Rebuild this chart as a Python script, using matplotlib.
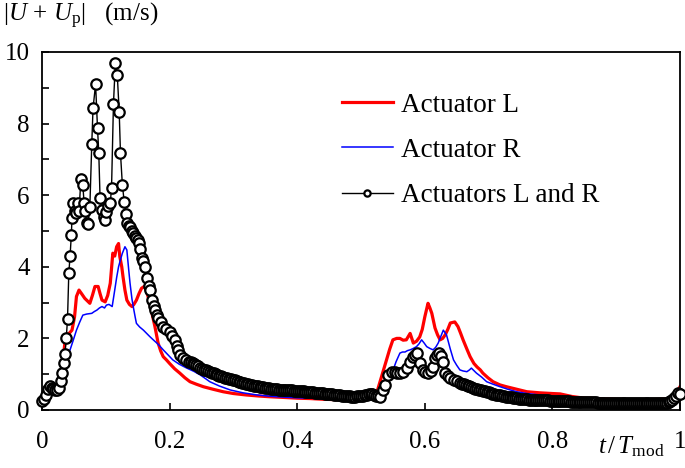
import matplotlib
matplotlib.use("Agg")
import matplotlib.pyplot as plt
from matplotlib.ticker import MultipleLocator

plt.rcParams['font.family'] = ['Liberation Serif', 'DejaVu Serif']
plt.rcParams['mathtext.fontset'] = 'custom'
plt.rcParams['mathtext.rm'] = 'Liberation Serif'
plt.rcParams['mathtext.it'] = 'Liberation Serif:italic'

# actuator L alone
t_left = [0.000, 0.010, 0.020, 0.028, 0.033, 0.036, 0.039, 0.043, 0.047, 0.051, 0.054, 0.058,
          0.062, 0.067, 0.071, 0.075, 0.079, 0.083, 0.088, 0.091, 0.094, 0.099, 0.103, 0.107,
          0.111, 0.114, 0.117, 0.120, 0.122, 0.125, 0.127, 0.130, 0.133, 0.137, 0.141, 0.144,
          0.148, 0.152, 0.156, 0.161, 0.165, 0.169, 0.173, 0.177, 0.182, 0.186, 0.190, 0.195,
          0.200, 0.208, 0.216, 0.224, 0.232, 0.242, 0.253, 0.268, 0.284, 0.300, 0.320, 0.340,
          0.357, 0.380, 0.400, 0.420, 0.440, 0.460, 0.480, 0.500, 0.515, 0.525, 0.530, 0.535,
          0.540, 0.545, 0.550, 0.556, 0.561, 0.566, 0.571, 0.577, 0.582, 0.587, 0.592, 0.596,
          0.600, 0.605, 0.608, 0.611, 0.616, 0.620, 0.624, 0.628, 0.632, 0.636, 0.640, 0.647,
          0.652, 0.656, 0.660, 0.666, 0.671, 0.677, 0.682, 0.687, 0.691, 0.699, 0.707, 0.718,
          0.728, 0.744, 0.760, 0.780, 0.800, 0.812, 0.830, 0.850, 0.900, 0.950, 0.990, 1.000]
u_left = [0.25, 0.50, 0.60, 0.70, 1.40, 1.90, 2.10, 2.15, 2.23, 2.60, 3.17, 3.35,
          3.25, 3.12, 3.05, 2.98, 3.20, 3.45, 3.45, 3.25, 3.07, 3.02, 3.20, 3.54,
          4.38, 4.30, 4.56, 4.65, 4.28, 4.00, 3.72, 3.35, 3.07, 2.95, 2.89, 2.95,
          3.07, 3.25, 3.40, 3.46, 3.25, 2.98, 2.65, 2.33, 1.87, 1.65, 1.49, 1.40,
          1.30, 1.15, 1.03, 0.90, 0.79, 0.72, 0.65, 0.58, 0.51, 0.46, 0.42, 0.39,
          0.37, 0.35, 0.33, 0.32, 0.30, 0.29, 0.28, 0.28, 0.30, 0.50, 0.80, 1.10,
          1.40, 1.70, 1.96, 2.00, 2.00, 1.95, 1.96, 2.14, 1.87, 1.92, 2.04, 2.25,
          2.60, 2.98, 2.85, 2.70, 2.29, 2.10, 1.96, 2.00, 2.10, 2.25, 2.43, 2.46,
          2.33, 2.15, 1.96, 1.70, 1.49, 1.30, 1.20, 1.12, 1.03, 0.90, 0.79, 0.70,
          0.65, 0.58, 0.51, 0.48, 0.46, 0.45, 0.38, 0.33, 0.30, 0.28, 0.32, 0.65]

# actuator R alone
t_right = [0.000, 0.010, 0.020, 0.028, 0.033, 0.038, 0.044, 0.049, 0.054, 0.059, 0.064, 0.070,
           0.078, 0.082, 0.086, 0.090, 0.094, 0.098, 0.101, 0.105, 0.110, 0.114, 0.117, 0.120,
           0.123, 0.126, 0.130, 0.133, 0.136, 0.138, 0.141, 0.143, 0.146, 0.148, 0.153, 0.159,
           0.164, 0.169, 0.175, 0.180, 0.185, 0.190, 0.197, 0.205, 0.215, 0.227, 0.238, 0.248,
           0.256, 0.263, 0.278, 0.295, 0.315, 0.337, 0.360, 0.380, 0.400, 0.420, 0.440, 0.460,
           0.480, 0.500, 0.520, 0.530, 0.540, 0.545, 0.550, 0.555, 0.561, 0.565, 0.569, 0.573,
           0.577, 0.582, 0.587, 0.591, 0.595, 0.599, 0.603, 0.608, 0.613, 0.617, 0.621, 0.625,
           0.629, 0.634, 0.637, 0.640, 0.645, 0.650, 0.655, 0.660, 0.666, 0.670, 0.673, 0.681,
           0.689, 0.697, 0.707, 0.718, 0.730, 0.744, 0.760, 0.780, 0.800, 0.850, 0.900, 0.950,
           0.990, 1.000]
u_right = [0.25, 0.50, 0.60, 0.70, 1.30, 1.50, 1.68, 1.95, 2.23, 2.45, 2.65, 2.68,
           2.70, 2.75, 2.79, 2.85, 2.89, 2.85, 2.93, 2.95, 2.89, 3.35, 3.70, 4.00,
           4.20, 4.38, 4.56, 4.47, 3.90, 3.54, 3.10, 2.89, 2.60, 2.42, 2.32, 2.23,
           2.14, 2.05, 1.95, 1.87, 1.78, 1.68, 1.55, 1.40, 1.28, 1.17, 1.08, 0.98,
           0.88, 0.79, 0.67, 0.56, 0.48, 0.42, 0.38, 0.36, 0.34, 0.33, 0.31, 0.30,
           0.29, 0.29, 0.30, 0.50, 0.80, 0.95, 1.10, 1.35, 1.59, 1.62, 1.62, 1.66,
           1.68, 1.72, 1.77, 1.85, 1.96, 1.87, 1.77, 1.72, 1.68, 1.75, 1.87, 2.05,
           2.23, 2.10, 1.90, 1.70, 1.40, 1.25, 1.12, 1.09, 1.07, 1.12, 1.17, 1.03,
           0.92, 0.79, 0.72, 0.65, 0.58, 0.51, 0.46, 0.42, 0.39, 0.33, 0.30, 0.28,
           0.30, 0.45]

# actuators L and R together
t_both = [0.000, 0.003, 0.006, 0.009, 0.012, 0.015, 0.018, 0.021, 0.024, 0.027, 0.030, 0.032,
          0.034, 0.036, 0.038, 0.040, 0.042, 0.044, 0.046, 0.047, 0.049, 0.051, 0.054, 0.056,
          0.058, 0.061, 0.064, 0.066, 0.068, 0.070, 0.072, 0.075, 0.078, 0.080, 0.084, 0.087,
          0.089, 0.091, 0.094, 0.097, 0.099, 0.101, 0.104, 0.107, 0.109, 0.112, 0.115, 0.118,
          0.121, 0.123, 0.126, 0.129, 0.132, 0.133, 0.136, 0.138, 0.141, 0.143, 0.146, 0.148,
          0.150, 0.152, 0.154, 0.156, 0.158, 0.161, 0.164, 0.167, 0.169, 0.172, 0.175, 0.177,
          0.180, 0.182, 0.186, 0.190, 0.195, 0.200, 0.204, 0.208, 0.211, 0.213, 0.217, 0.221,
          0.225,
          0.230, 0.233, 0.236, 0.239, 0.242, 0.245, 0.248, 0.251, 0.254, 0.257, 0.260, 0.263,
          0.266, 0.269, 0.272, 0.275, 0.278, 0.281, 0.284, 0.287, 0.290, 0.293, 0.296, 0.299,
          0.302, 0.305, 0.308, 0.311, 0.314, 0.317, 0.320, 0.323, 0.326, 0.329, 0.332, 0.335,
          0.338, 0.341, 0.344, 0.347, 0.350, 0.353, 0.356, 0.359, 0.362, 0.365, 0.368, 0.371,
          0.374, 0.377, 0.380, 0.383, 0.386, 0.389, 0.392, 0.395, 0.398, 0.401, 0.404, 0.407,
          0.410, 0.413, 0.416, 0.419, 0.422, 0.425, 0.428, 0.431, 0.434, 0.437, 0.440, 0.443,
          0.446, 0.449, 0.452, 0.455, 0.458, 0.461, 0.464, 0.467, 0.470, 0.473, 0.476, 0.479,
          0.482, 0.485, 0.488, 0.491, 0.494, 0.497, 0.500, 0.503, 0.506, 0.509, 0.512, 0.515,
          0.518, 0.521, 0.524, 0.527, 0.530,
          0.534, 0.538, 0.542, 0.548, 0.553, 0.557, 0.561, 0.566, 0.572, 0.577, 0.582, 0.585,
          0.588, 0.592, 0.597, 0.601, 0.605, 0.609, 0.613, 0.616, 0.619, 0.622, 0.626, 0.629,
          0.632, 0.636, 0.640, 0.645, 0.650, 0.655,
          0.658, 0.661, 0.664, 0.667, 0.670, 0.673, 0.676, 0.679, 0.682, 0.685, 0.688, 0.691,
          0.694, 0.697, 0.700, 0.703, 0.706, 0.709, 0.712, 0.715, 0.718, 0.721, 0.724, 0.727,
          0.730, 0.733, 0.736, 0.739, 0.742, 0.745, 0.748, 0.751, 0.754, 0.757, 0.760, 0.763,
          0.766, 0.769, 0.772, 0.775, 0.778, 0.781, 0.784, 0.787, 0.790, 0.793, 0.796, 0.799,
          0.802, 0.805, 0.808, 0.811, 0.814, 0.817, 0.820, 0.823, 0.826, 0.829, 0.832, 0.835,
          0.838, 0.841, 0.844, 0.847, 0.850, 0.853, 0.856, 0.859, 0.862, 0.865, 0.868, 0.871,
          0.874, 0.877, 0.880, 0.883, 0.886, 0.889, 0.892, 0.895, 0.898, 0.901, 0.904, 0.907,
          0.910, 0.913, 0.916, 0.919, 0.922, 0.925, 0.928, 0.931, 0.934, 0.937, 0.940, 0.943,
          0.946, 0.949, 0.952, 0.955, 0.958, 0.961, 0.964, 0.967, 0.970, 0.973, 0.976, 0.979,
          0.982, 0.985, 0.988, 0.991, 0.994, 0.997, 1.000]
u_both = [0.25, 0.30, 0.42, 0.58, 0.68, 0.62, 0.60, 0.56, 0.55, 0.62, 0.82, 1.03,
          1.30, 1.56, 2.00, 2.54, 3.82, 4.30, 4.90, 5.35, 5.77, 5.55, 5.50, 5.78,
          5.55, 6.45, 6.28, 5.78, 5.55, 5.22, 5.20, 5.67, 7.43, 8.43, 9.10, 7.87,
          7.18, 5.92, 5.58, 5.40, 5.30, 5.53, 5.70, 5.78, 6.20, 8.55, 9.70, 9.36,
          8.33, 7.17, 6.28, 5.80, 5.47, 5.22, 5.15, 5.12, 5.00, 4.94, 4.85, 4.80,
          4.75, 4.66, 4.50, 4.25, 4.15, 4.00, 3.68, 3.45, 3.35, 3.07, 2.90, 2.79,
          2.65, 2.56, 2.45, 2.33, 2.25, 2.18, 2.08, 1.96, 1.80, 1.68, 1.55, 1.45,
          1.40,
          1.35, 1.33, 1.31, 1.28, 1.25, 1.22, 1.17, 1.15, 1.13, 1.11, 1.09, 1.07,
          1.04, 1.02, 1.00, 0.98, 0.96, 0.94, 0.92, 0.90, 0.88, 0.87, 0.86, 0.85,
          0.83, 0.81, 0.79, 0.78, 0.76, 0.75, 0.73, 0.72, 0.70, 0.69, 0.68, 0.67,
          0.66, 0.65, 0.64, 0.63, 0.62, 0.62, 0.61, 0.60, 0.59, 0.58, 0.58, 0.57,
          0.57, 0.56, 0.56, 0.56, 0.55, 0.55, 0.55, 0.54, 0.54, 0.54, 0.53, 0.52,
          0.52, 0.51, 0.50, 0.50, 0.49, 0.49, 0.48, 0.48, 0.47, 0.47, 0.47, 0.46,
          0.46, 0.45, 0.44, 0.44, 0.43, 0.42, 0.41, 0.41, 0.40, 0.39, 0.39, 0.38,
          0.38, 0.37, 0.37, 0.37, 0.38, 0.38, 0.39, 0.40, 0.42, 0.43, 0.45, 0.45,
          0.44, 0.42, 0.40, 0.38, 0.37,
          0.56, 0.70, 0.98, 1.07, 1.05, 1.03, 1.03, 1.07, 1.17, 1.35, 1.49, 1.54,
          1.59, 1.31, 1.12, 1.05, 1.03, 1.10, 1.20, 1.45, 1.54, 1.59, 1.50, 1.35,
          1.03, 0.95, 0.89, 0.84, 0.80, 0.75,
          0.74, 0.72, 0.70, 0.68, 0.66, 0.64, 0.61, 0.60, 0.58, 0.57, 0.55, 0.54,
          0.52, 0.51, 0.49, 0.47, 0.46, 0.44, 0.43, 0.42, 0.41, 0.40, 0.38, 0.37,
          0.37, 0.36, 0.35, 0.34, 0.33, 0.33, 0.32, 0.31, 0.30, 0.30, 0.30, 0.29,
          0.29, 0.29, 0.29, 0.28, 0.28, 0.28, 0.28, 0.27, 0.27, 0.27, 0.26, 0.26,
          0.26, 0.25, 0.25, 0.25, 0.25, 0.24, 0.24, 0.24, 0.24, 0.23, 0.23, 0.23,
          0.23, 0.22, 0.22, 0.22, 0.22, 0.22, 0.21, 0.21, 0.21, 0.21, 0.21, 0.20,
          0.20, 0.20, 0.20, 0.20, 0.20, 0.20, 0.20, 0.20, 0.20, 0.20, 0.20, 0.20,
          0.20, 0.20, 0.20, 0.20, 0.20, 0.20, 0.20, 0.20, 0.20, 0.20, 0.20, 0.20,
          0.20, 0.20, 0.20, 0.20, 0.20, 0.20, 0.20, 0.20, 0.20, 0.20, 0.20, 0.20,
          0.21, 0.24, 0.28, 0.33, 0.40, 0.47, 0.45]

x_ticks = [0, 0.2, 0.4, 0.6, 0.8, 1]
x_labels = ['0', '0.2', '0.4', '0.6', '0.8', '1']
y_ticks = [0, 2, 4, 6, 8, 10]

fig = plt.figure(figsize=(6.85, 4.68), dpi=100)
ax = fig.add_axes([42 / 685, 58 / 468, 638 / 685, 358 / 468])

ax.plot(t_left, u_left, color='#ff0000', lw=2.3, label='Actuator L', zorder=2)
ax.plot(t_right, u_right, color='#0000ff', lw=1.1, label='Actuator R', zorder=3)
ax.plot(t_both, u_both, color='black', lw=1.0, marker='o', ms=7.5, mfc='white', mec='black',
        mew=1.6, label='Actuators L and R', zorder=4, clip_on=False)

ax.set_xlim(0, 1)
ax.set_ylim(0, 10)
ax.set_xticks(x_ticks)
ax.set_xticklabels(x_labels)
ax.set_yticks(y_ticks)
ax.yaxis.set_minor_locator(MultipleLocator(1))
ax.tick_params(which='both', direction='in', length=5, width=1.2, labelsize=18)
ax.tick_params(axis='x', pad=15)
ax.tick_params(axis='y', pad=9)
for s in ax.spines.values():
    s.set_linewidth(1.3)

fig.text(3 / 685, 1 - 16 / 468, r'$|U\,+\,U_{\rm p}|$   (m/s)', fontsize=18, va='center', ha='left')
fig.text(598 / 685, 1 - 447 / 468, r'$t\,/\,T_{\rm mod}$', fontsize=18, va='center', ha='left')

leg = ax.legend(loc='upper left', bbox_to_anchor=(328 / 685, 1 - 79 / 468),
                bbox_transform=fig.transFigure, frameon=False, fontsize=19.5, borderpad=0,
                handlelength=1.9, handletextpad=0.3, labelspacing=0.75, markerscale=0.6)

fig.savefig('out.png', dpi=100)
